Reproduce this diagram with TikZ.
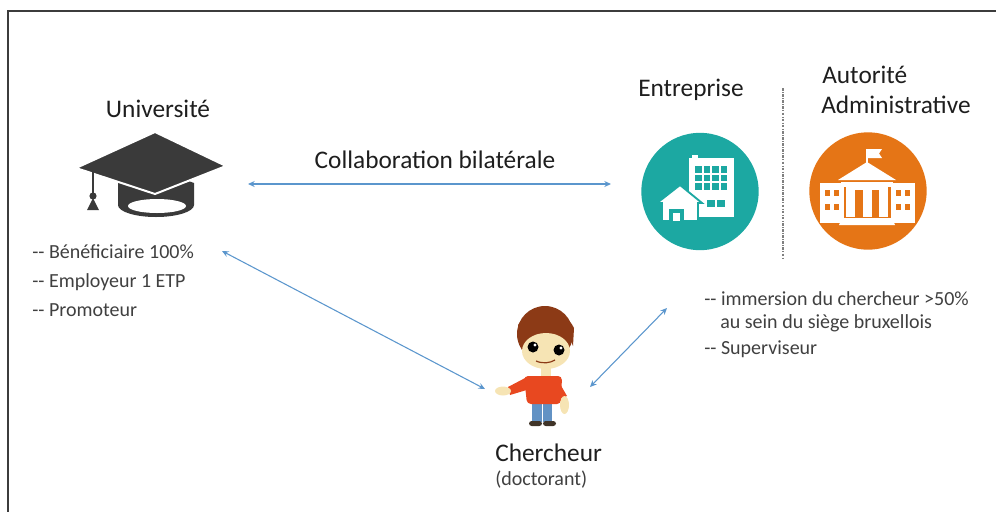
\documentclass[tikz,border=0pt]{standalone}
\usepackage{fontspec}
\setmainfont{Carlito}
\usetikzlibrary{arrows.meta}
\definecolor{txt}{RGB}{30,30,30}
\definecolor{bul}{RGB}{64,64,64}
\definecolor{arr}{RGB}{91,150,205}
\definecolor{capc}{RGB}{58,58,58}
\definecolor{framec}{RGB}{60,60,60}
\definecolor{tealc}{RGB}{28,168,162}
\definecolor{orng}{RGB}{229,117,22}
\definecolor{hair}{RGB}{140,58,22}
\definecolor{skin}{RGB}{246,228,180}
\definecolor{shirt}{RGB}{232,72,32}
\definecolor{pants}{RGB}{98,146,196}
\definecolor{shoe}{RGB}{64,52,40}
\newcommand{\dsh}{\mbox{-}\mbox{-}\ }
\begin{document}
\begin{tikzpicture}[x=0.75pt,y=-0.75pt,
  title/.style={text=txt,font=\fontsize{19}{22.5}\selectfont,inner sep=0,anchor=base},
  bullet/.style={text=bul,font=\fontsize{15}{18}\selectfont,inner sep=0,anchor=base west},
  link/.style={draw=arr,line width=0.8pt,{Stealth[length=5pt,width=4.5pt]}-{Stealth[length=5pt,width=4.5pt]}}]
\useasboundingbox (0,0) rectangle (996,511);
\draw[line width=1.6pt,framec] (8,520) -- (8,11) -- (1000,11);

% ---------- texts
\node[title] (univ) at (158,117) {Université};
\node[title] (collab) at (435,168) {Collaboration bilatérale};
\node[title] (entrt) at (691,96) {Entreprise};
\node[title,anchor=base west] (autt1) at (822,83) {Autorité};
\node[title,anchor=base west] (autt2) at (821,113) {Administrative};
\node[title,anchor=base west] (chert) at (495,461) {Chercheur};
\node[bullet] (doct) at (495,485) {(doctorant)};
\node[bullet] (b1) at (32,258) {\dsh Bénéficiaire 100\%};
\node[bullet] (b2) at (32,287) {\dsh Employeur 1 ETP};
\node[bullet] (b3) at (32,316) {\dsh Promoteur};
\node[bullet] (r1) at (704,305) {\dsh immersion du chercheur >50\%};
\node[bullet] (r2) at (720,328) {au sein du siège bruxellois};
\node[bullet] (r3) at (704,354) {\dsh Superviseur};

% ---------- separator
\draw[gray,line width=0.8pt,dash pattern=on 2pt off 1pt on 0.6pt off 1pt] (783,88) -- (783,258);

% ---------- graduation cap
\fill[capc] (118,183) .. controls (140,174) and (172,174) .. (194,183) -- (194,205)
  arc[start angle=0,end angle=180,x radius=38,y radius=12] -- cycle;
\fill[white] (157,206) ellipse[x radius=29,y radius=7];
\filldraw[fill=capc,draw=white,line width=1.5pt] (155,132) -- (226,166) -- (155,194) -- (76,168) -- cycle;
\draw[capc,line width=1.5pt] (93,170) -- (93,193);
\fill[capc] (93,196) circle[radius=3.6];
\fill[capc] (93,198) -- (99,210) -- (87,210) -- cycle;
\node[inner sep=0,minimum width=113pt,minimum height=60pt] (capn) at (152,172) {};

% ---------- entreprise icon
\node[circle,fill=tealc,minimum size=88pt,inner sep=0] (entr) at (700,191.5) {};
\fill[white] (689,158) rectangle (734,217);
\fill[white] (692,155) rectangle (698,159);
\foreach \i in {0,1,2,3}{\foreach \j in {0,1,2}{
  \fill[tealc] ({695+\i*8.5},{166+\j*8.7}) rectangle ++(6.5,6.7);}}
\fill[tealc] (707,200) rectangle (715,207);
\fill[tealc] (717,200) rectangle (725,207);
\filldraw[fill=white,draw=tealc,line width=1.4pt] (662,221) -- (662,203) -- (657,203) -- (680,185) -- (702,203) -- (698,203) -- (698,221) -- cycle;
\fill[tealc] (669,209) rectangle (684,221);
\fill[white] (673,213) rectangle (680,221);

% ---------- authority icon
\node[circle,fill=orng,minimum size=88pt,inner sep=0] (auth) at (868,191) {};
\fill[white] (820,183) rectangle (844,223);
\fill[white] (891,183) rectangle (915,223);
\foreach \x in {825,834,896,905}{\foreach \y in {190,204}{
  \fill[orng] (\x,\y) rectangle ++(5,6);}}
\fill[white] (838,180) -- (867,162) -- (896,180) -- cycle;
\fill[white] (841,182) rectangle (893,187);
\fill[white] (846,187) rectangle (888,217);
\fill[orng] (855,190) rectangle (862.5,217);
\fill[orng] (871.5,190) rectangle (879,217);
\fill[white] (842,218) -- (892,218) -- (895,225) -- (839,225) -- cycle;
\draw[white,line width=1pt] (867,163) -- (867,149);
\fill[white] (867.5,149) -- (882,149) -- (879,153.5) -- (882,158) -- (867.5,158) -- cycle;

% ---------- researcher
\node[inner sep=0,minimum width=55pt,minimum height=95pt] (pers) at (535,366) {};
\fill[hair] (545,334) ellipse[x radius=28,y radius=28];
\fill[skin] (546,351) ellipse[x radius=24,y radius=18];
\fill[hair] (518,343) .. controls (522,328) and (545,322) .. (560,330)
  .. controls (566,334) and (570,338) .. (573,346) -- (574,328)
  .. controls (565,308) and (530,305) .. (518,325) -- cycle;
\fill[black] (533,347) circle[radius=5.5];
\fill[black] (559,350) circle[radius=5.5];
\fill[white] (535,345) circle[radius=1.6];
\fill[white] (561,348) circle[radius=1.6];
\draw[hair,line width=0.9pt] (536,361) .. controls (543,364) and (550,363) .. (555,360);
\fill[skin] (541,366) rectangle (551,377);
\fill[pants] (532,401) rectangle (541.5,422);
\fill[pants] (543,401) rectangle (552,422);
\fill[shoe,rounded corners=2pt] (529,421) rectangle (542,426);
\fill[shoe,rounded corners=2pt] (543,421) rectangle (556,426);
\fill[shirt,rounded corners=3pt] (524,376) -- (562,376) -- (561,404) -- (527,404) -- cycle;
\fill[shirt] (527,377) -- (508,387) -- (510,395) -- (530,389) -- cycle;
\fill[skin] (503,391) ellipse[x radius=8,y radius=4.5];
\fill[shirt] (556,377) -- (567,396) -- (560,399) -- (553,386) -- cycle;
\fill[skin] (564.5,405) ellipse[x radius=4.5,y radius=9];

% ---------- connectors
\coordinate (h1) at (248,184);
\coordinate (h2) at (611,184);
\coordinate (d1) at (222,251);
\coordinate (d2) at (485,389);
\coordinate (e1) at (590,387);
\coordinate (e2) at (667,308);
\draw[link] (h1) -- (h2);
\draw[link] (d1) -- (d2);
\draw[link] (e1) -- (e2);
\end{tikzpicture}
\end{document}
